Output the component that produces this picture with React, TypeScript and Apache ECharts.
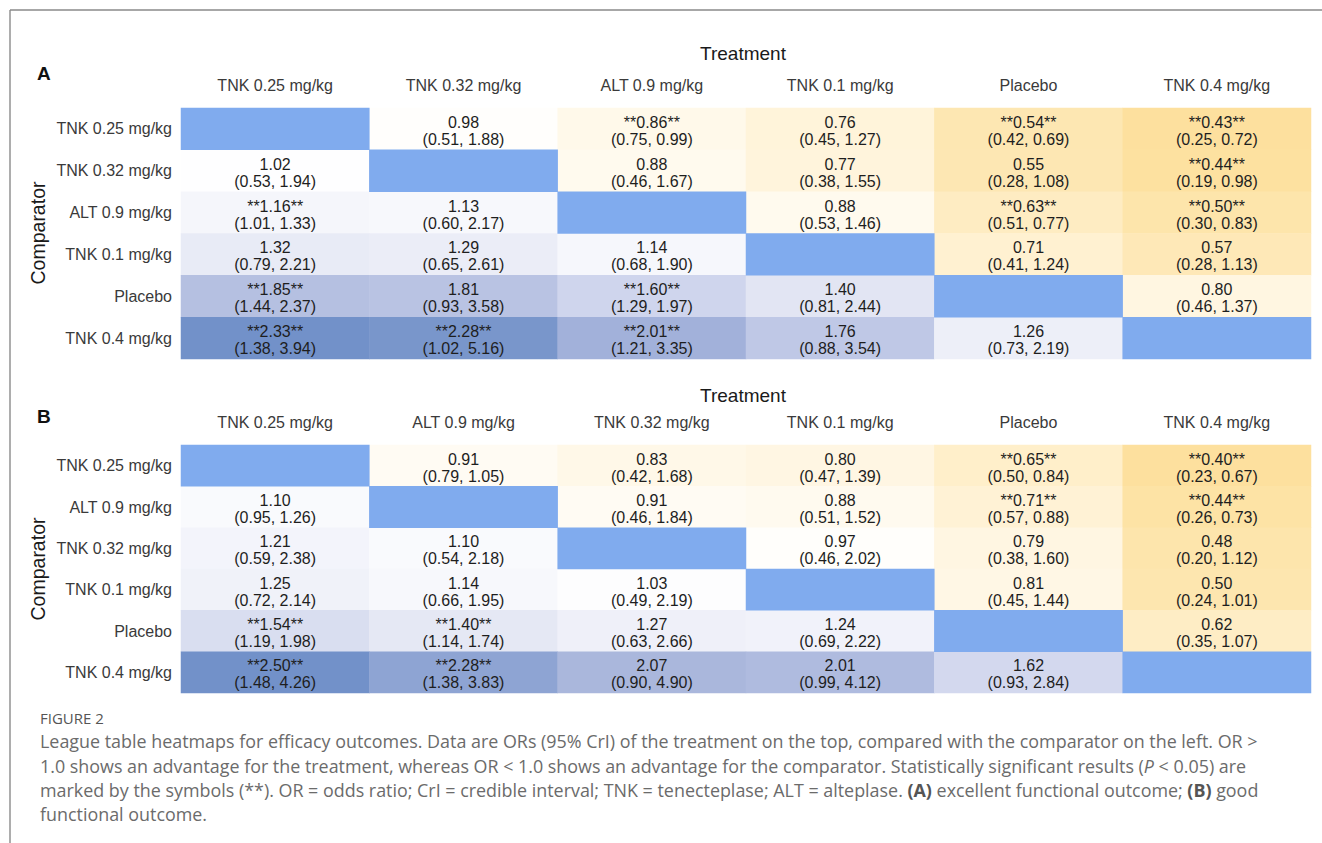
import React, { useEffect, useRef } from "react";
import * as echarts from "echarts";

// ---------- Data ----------
const treatmentsA = ["TNK 0.25 mg/kg", "TNK 0.32 mg/kg", "ALT 0.9 mg/kg", "TNK 0.1 mg/kg", "Placebo", "TNK 0.4 mg/kg"];
const comparatorsA = ["TNK 0.25 mg/kg", "TNK 0.32 mg/kg", "ALT 0.9 mg/kg", "TNK 0.1 mg/kg", "Placebo", "TNK 0.4 mg/kg"];
const orA = [
  [null, 0.98, 0.86, 0.76, 0.54, 0.43],
  [1.02, null, 0.88, 0.77, 0.55, 0.44],
  [1.16, 1.13, null, 0.88, 0.63, 0.5],
  [1.32, 1.29, 1.14, null, 0.71, 0.57],
  [1.85, 1.81, 1.6, 1.4, null, 0.8],
  [2.33, 2.28, 2.01, 1.76, 1.26, null],
];
const loA = [
  [null, 0.51, 0.75, 0.45, 0.42, 0.25],
  [0.53, null, 0.46, 0.38, 0.28, 0.19],
  [1.01, 0.6, null, 0.53, 0.51, 0.3],
  [0.79, 0.65, 0.68, null, 0.41, 0.28],
  [1.44, 0.93, 1.29, 0.81, null, 0.46],
  [1.38, 1.02, 1.21, 0.88, 0.73, null],
];
const hiA = [
  [null, 1.88, 0.99, 1.27, 0.69, 0.72],
  [1.94, null, 1.67, 1.55, 1.08, 0.98],
  [1.33, 2.17, null, 1.46, 0.77, 0.83],
  [2.21, 2.61, 1.9, null, 1.24, 1.13],
  [2.37, 3.58, 1.97, 2.44, null, 1.37],
  [3.94, 5.16, 3.35, 3.54, 2.19, null],
];

const treatmentsB = ["TNK 0.25 mg/kg", "ALT 0.9 mg/kg", "TNK 0.32 mg/kg", "TNK 0.1 mg/kg", "Placebo", "TNK 0.4 mg/kg"];
const comparatorsB = ["TNK 0.25 mg/kg", "ALT 0.9 mg/kg", "TNK 0.32 mg/kg", "TNK 0.1 mg/kg", "Placebo", "TNK 0.4 mg/kg"];
const orB = [
  [null, 0.91, 0.83, 0.8, 0.65, 0.4],
  [1.1, null, 0.91, 0.88, 0.71, 0.44],
  [1.21, 1.1, null, 0.97, 0.79, 0.48],
  [1.25, 1.14, 1.03, null, 0.81, 0.5],
  [1.54, 1.4, 1.27, 1.24, null, 0.62],
  [2.5, 2.28, 2.07, 2.01, 1.62, null],
];
const loB = [
  [null, 0.79, 0.42, 0.47, 0.5, 0.23],
  [0.95, null, 0.46, 0.51, 0.57, 0.26],
  [0.59, 0.54, null, 0.46, 0.38, 0.2],
  [0.72, 0.66, 0.49, null, 0.45, 0.24],
  [1.19, 1.14, 0.63, 0.69, null, 0.35],
  [1.48, 1.38, 0.9, 0.99, 0.93, null],
];
const hiB = [
  [null, 1.05, 1.68, 1.39, 0.84, 0.67],
  [1.26, null, 1.84, 1.52, 0.88, 0.73],
  [2.38, 2.18, null, 2.02, 1.6, 1.12],
  [2.14, 1.95, 2.19, null, 1.44, 1.01],
  [1.98, 1.74, 2.66, 2.22, null, 1.07],
  [4.26, 3.83, 4.9, 4.12, 2.84, null],
];

const captionLines = [
  "League table heatmaps for efficacy outcomes. Data are ORs (95% CrI) of the treatment on the top, compared with the comparator on the left. OR >",
  "1.0 shows an advantage for the treatment, whereas OR < 1.0 shows an advantage for the comparator. Statistically significant results ({i|P} < 0.05) are",
  "marked by the symbols (**). OR = odds ratio; CrI = credible interval; TNK = tenecteplase; ALT = alteplase. {b|(A)} excellent functional outcome; {b|(B)} good",
  "functional outcome.",
];

// ---------- Helpers ----------
function buildCells(or: (number | null)[][], lo: (number | null)[][], hi: (number | null)[][]) {
  let vmax = 0;
  or.forEach((r) => r.forEach((v) => { if (v != null) vmax = Math.max(vmax, Math.abs(Math.log(v))); }));
  const cells: any[] = [];
  const diag: any[] = [];
  or.forEach((r, yi) =>
    r.forEach((v, xi) => {
      if (v == null) {
        diag.push([xi, yi, 0]);
      } else {
        cells.push([xi, yi, Math.log(v) / vmax, v, lo[yi][xi], hi[yi][xi]]);
      }
    })
  );
  return { cells, diag };
}

const FONT = "'Liberation Sans', Arial, Helvetica, sans-serif";
const CAP_FONT = "'Open Sans', Lato, sans-serif";
const CAP_SIZE = 17.9;

export default function App() {
  const ref = useRef<HTMLDivElement>(null);
  useEffect(() => {
    if (!ref.current) return;
    const chart = echarts.init(ref.current, undefined, { renderer: "svg" });
    const A = buildCells(orA, loA, hiA);
    const B = buildCells(orB, loB, hiB);

    const label = {
      show: true,
      fontFamily: FONT,
      fontSize: 16,
      lineHeight: 17,
      offset: [0, 2],
      color: "#1e1e1e",
      formatter: (p: any) => {
        const d = p.data;
        const sig = d[4] > 1 || d[5] < 1;
        const s = sig ? "**" : "";
        return `${s}${d[3].toFixed(2)}${s}\n(${d[4].toFixed(2)}, ${d[5].toFixed(2)})`;
      },
    };

    const grids = [
      { left: 181, top: 108, width: 1130, height: 251 },
      { left: 181, top: 445, width: 1130, height: 248 },
    ];
    const xAx = (data: string[], gi: number) => ({
      type: "category",
      gridIndex: gi,
      position: "top",
      data,
      axisLine: { show: false },
      axisTick: { show: false },
      splitLine: { show: false },
      axisLabel: { fontFamily: FONT, fontSize: 16, color: "#3a3a3a", margin: 15 },
    });
    const yAx = (data: string[], gi: number) => ({
      type: "category",
      gridIndex: gi,
      inverse: true,
      data,
      axisLine: { show: false },
      axisTick: { show: false },
      splitLine: { show: false },
      axisLabel: { fontFamily: FONT, fontSize: 16, color: "#3a3a3a", margin: 9 },
    });

    const diagColor = "#80abee";
    const textStyle = (extra: any) => ({ fontFamily: FONT, fill: "#1a1a1a", ...extra });

    const graphic: any[] = [
      { type: "line", shape: { x1: 10, y1: 10, x2: 1322, y2: 10 }, style: { stroke: "#8a8a8a", lineWidth: 1.4 } },
      { type: "line", shape: { x1: 10, y1: 10, x2: 10, y2: 843 }, style: { stroke: "#8a8a8a", lineWidth: 1.4 } },
      { type: "text", x: 37, y: 73, style: textStyle({ text: "A", fontSize: 19, fontWeight: "bold", verticalAlign: "middle", fill: "#111" }) },
      { type: "text", x: 37, y: 416, style: textStyle({ text: "B", fontSize: 19, fontWeight: "bold", verticalAlign: "middle", fill: "#111" }) },
      { type: "text", x: 743, y: 53, style: textStyle({ text: "Treatment", fontSize: 19, align: "center", verticalAlign: "middle" }) },
      { type: "text", x: 743, y: 395, style: textStyle({ text: "Treatment", fontSize: 19, align: "center", verticalAlign: "middle" }) },
      { type: "text", x: 38, y: 233, rotation: Math.PI / 2, style: textStyle({ text: "Comparator", fontSize: 19.5, align: "center", verticalAlign: "middle" }) },
      { type: "text", x: 38, y: 569, rotation: Math.PI / 2, style: textStyle({ text: "Comparator", fontSize: 19.5, align: "center", verticalAlign: "middle" }) },
      { type: "text", x: 40, y: 718, style: { text: "FIGURE 2", fontFamily: CAP_FONT, fontSize: 15, fill: "#555", verticalAlign: "middle" } },
    ];
    const capY = [741, 766, 790, 814];
    captionLines.forEach((t, i) => {
      graphic.push({
        type: "text",
        x: 40,
        y: capY[i],
        style: {
          text: t,
          fontFamily: CAP_FONT,
          fontSize: CAP_SIZE,
          fill: "#6b6b6b",
          verticalAlign: "middle",
          rich: {
            b: { fontFamily: CAP_FONT, fontSize: CAP_SIZE, fontWeight: "bold", fill: "#555" },
            i: { fontFamily: CAP_FONT, fontSize: CAP_SIZE, fontStyle: "italic", fill: "#6b6b6b" },
          },
        },
      });
    });

    chart.setOption({
      animation: false,
      backgroundColor: "#ffffff",
      grid: grids,
      xAxis: [xAx(treatmentsA, 0), xAx(treatmentsB, 1)],
      yAxis: [yAx(comparatorsA, 0), yAx(comparatorsB, 1)],
      visualMap: [
        {
          type: "continuous",
          show: false,
          min: -1,
          max: 1,
          dimension: 2,
          seriesIndex: [0, 2],
          inRange: {
            color: [
              "#fde09e", "#fde5ac", "#feeabc", "#fff1d2", "#fff8e8", "#ffffff",
              "#f4f5fb", "#e2e5f3", "#cad1eb", "#a9b6dc", "#7291c9",
            ],
          },
        },
        {
          type: "continuous",
          show: false,
          min: -1,
          max: 1,
          dimension: 2,
          seriesIndex: [1, 3],
          inRange: { color: [diagColor, diagColor] },
        },
      ],
      series: [
        { type: "heatmap", xAxisIndex: 0, yAxisIndex: 0, data: A.cells, label, itemStyle: { borderWidth: 0 } },
        { type: "heatmap", xAxisIndex: 0, yAxisIndex: 0, data: A.diag, itemStyle: { borderWidth: 0 }, label: { show: false } },
        { type: "heatmap", xAxisIndex: 1, yAxisIndex: 1, data: B.cells, label, itemStyle: { borderWidth: 0 } },
        { type: "heatmap", xAxisIndex: 1, yAxisIndex: 1, data: B.diag, itemStyle: { borderWidth: 0 }, label: { show: false } },
      ],
      graphic,
    });
    return () => chart.dispose();
  }, []);
  return (
    <div
      ref={ref}
      style={{ position: "fixed", left: 0, top: 0, width: 1322, height: 843, background: "#fff" }}
    />
  );
}
